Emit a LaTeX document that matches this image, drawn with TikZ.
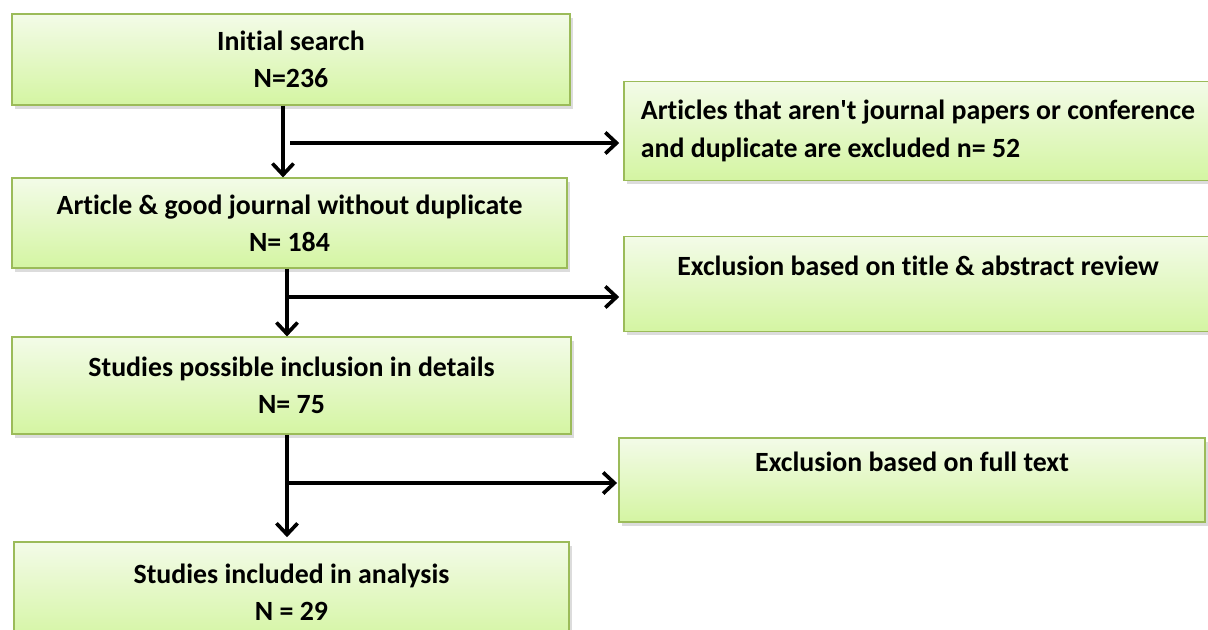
\documentclass[tikz,border=0pt]{standalone}
\usepackage{fontspec}
\setmainfont{Carlito}[RawFeature=-liga]
\usetikzlibrary{arrows.meta,shadows}

\definecolor{boxline}{HTML}{9BBB59}
\definecolor{boxtop}{HTML}{F3FBE8}
\definecolor{boxbot}{HTML}{D4F5A2}

\tikzset{
  stage/.style={draw=boxline, line width=0.8pt, top color=boxtop, bottom color=boxbot,
    drop shadow={shadow xshift=2pt, shadow yshift=-2.5pt, opacity=0.28},
    align=center, inner sep=0pt, font=\fontsize{19.8}{26.5}\selectfont\bfseries},
  sidebox/.style={stage, align=left},
  flow/.style={line width=2.6pt, -{Straight Barb[length=8pt,width=15pt]}}
}

\begin{document}
\begin{tikzpicture}[x=0.025cm, y=-0.025cm]

% Page frame
\clip (0,0) rectangle (1208,630);

% Main stages
\node[stage, minimum width=558*0.025cm, minimum height=91*0.025cm] (init) at (291,59.5)
  {Initial search\\N=236};
\node[stage, minimum width=555*0.025cm, minimum height=90*0.025cm] (nodup) at (289.5,223)
  {Article \& good journal without duplicate\\N= 184};
\node[stage, minimum width=559*0.025cm, minimum height=97*0.025cm] (possible) at (291.5,385.5)
  {Studies possible inclusion in details\\N= 75};
\node[stage, minimum width=555*0.025cm, minimum height=100*0.025cm] (included) at (291.5,592)
  {Studies included in analysis\\N = 29};

% Exclusion boxes
\node[sidebox, minimum width=588*0.025cm, minimum height=99*0.025cm] (excl1) at (918,131)
  {Articles that aren\textquotesingle t journal papers or conference\\and duplicate are excluded n= 52};
\node[stage, minimum width=588*0.025cm, minimum height=95*0.025cm] (excl2) at (918,284)
  {Exclusion based on title \& abstract review\\\mbox{}};
\node[stage, minimum width=586*0.025cm, minimum height=84*0.025cm] (excl3) at (912,480)
  {Exclusion based on full text\\\mbox{}};

% Branch points
\coordinate (b1) at (283,143);
\coordinate (b2) at (287,297);
\coordinate (b3) at (287,483);

% Arrows down
\draw[flow] (init.south -| b1) -- (nodup.north -| b1);
\draw[flow] (nodup.south -| b2) -- (possible.north -| b2);
\draw[flow] (possible.south -| b3) -- ([yshift=3pt]included.north -| b3);

% Arrows to the side
\draw[flow] ([xshift=7*0.025cm]b1) -- ([xshift=-3pt]excl1.west |- b1);
\draw[flow] (b2) -- ([xshift=-3pt]excl2.west |- b2);
\draw[flow] (b3) -- ([xshift=-1pt]excl3.west |- b3);

\end{tikzpicture}
\end{document}
